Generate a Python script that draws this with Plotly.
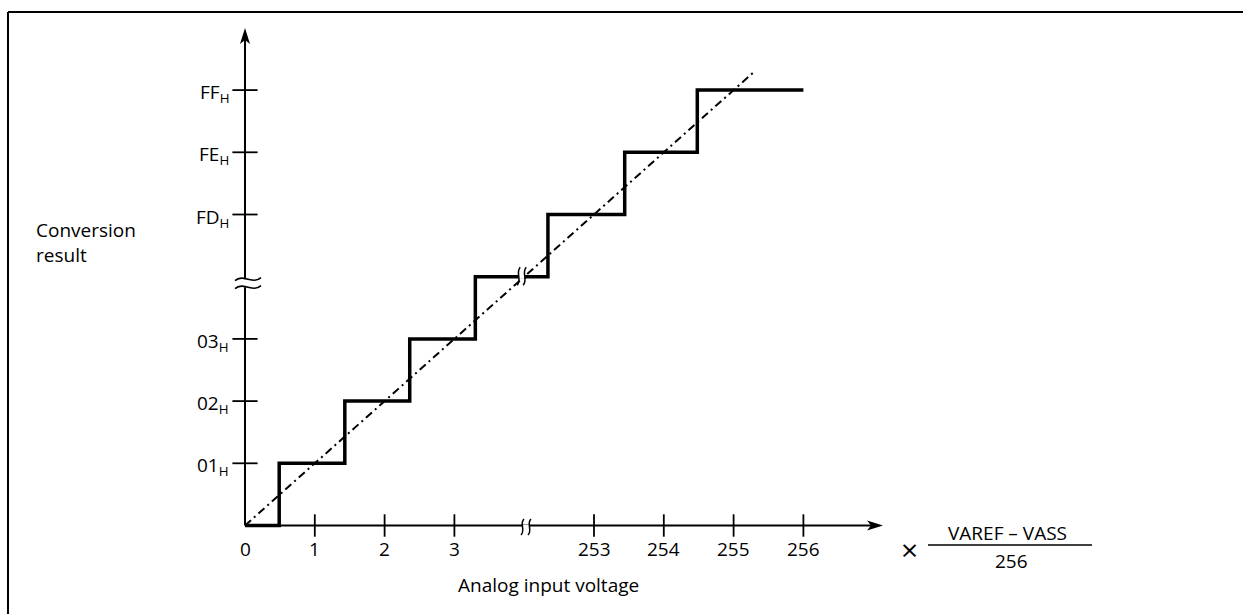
import plotly.graph_objects as go

# ---------------- data ----------------
x_tick_values = [0, 1, 2, 3, 253, 254, 255, 256]
x_tick_labels = ["0", "1", "2", "3", "253", "254", "255", "256"]
y_tick_codes = [1, 2, 3, 253, 254, 255]
y_tick_labels = ["01", "02", "03", "FD", "FE", "FF"]
step_input = [0, 0.49, 1.43, 2.36, 3.3, 252.34, 253.44, 254.48, 256]
step_code = [0, 1, 2, 3, 252, 253, 254, 255, 255]
ideal_input = [0, 255.3]
ideal_code = [0, 255.3]

BREAK_AT = 252  # values between 4 and 252 are hidden by the axis break


def pos(v):
    return v if v <= 4 else v - (BREAK_AT - 4)


# ---------------- geometry ----------------
W, H = 1243, 614
X0, SX = 245, 69.8
Y0, SY = 525.5, 62.2
x_range = [-X0 / SX, (W - X0) / SX]
y_range = [(Y0 - H) / SY, Y0 / SY]
X_TIP = (883 - X0) / SX
Y_TIP = (Y0 - 28) / SY
FONT = "Open Sans"
FS = 19


def px(x):
    return x / W


def py(y):
    return 1 - y / H


fig = go.Figure()

# axes lines
fig.add_trace(go.Scatter(x=[0, X_TIP - 0.12], y=[0, 0], mode="lines",
                         line=dict(color="black", width=2), hoverinfo="skip"))
fig.add_trace(go.Scatter(x=[0, 0], y=[0, Y_TIP - 0.15], mode="lines",
                         line=dict(color="black", width=2), hoverinfo="skip"))

# tick marks
fig.add_trace(go.Scatter(x=[pos(v) for v in x_tick_values[1:]], y=[0] * (len(x_tick_values) - 1),
                         mode="markers", hoverinfo="skip",
                         marker=dict(symbol="line-ns", size=16, line=dict(color="black", width=1.8))))
fig.add_trace(go.Scatter(x=[0] * len(y_tick_codes), y=[pos(c) for c in y_tick_codes],
                         mode="markers", hoverinfo="skip",
                         marker=dict(symbol="line-ew", size=18, line=dict(color="black", width=1.8))))

# ideal (dash-dot) line
fig.add_trace(go.Scatter(x=[pos(v) for v in ideal_input], y=[pos(v) for v in ideal_code],
                         mode="lines", hoverinfo="skip",
                         line=dict(color="black", width=2, dash="8px,4px,2px,4px")))

# conversion staircase
fig.add_trace(go.Scatter(x=[pos(v) for v in step_input], y=[pos(v) for v in step_code],
                         mode="lines", line_shape="hv", hoverinfo="skip",
                         line=dict(color="black", width=3.5)))


def pshape(xa, ya, path, fill="rgba(0,0,0,0)", width=0.0):
    return dict(type="path", xref="x", yref="y", xsizemode="pixel", ysizemode="pixel",
                xanchor=xa, yanchor=ya, path=path, fillcolor=fill,
                line=dict(color="black", width=width), layer="above")


shapes = []
# arrowheads
shapes.append(pshape(X_TIP, 0, "M0,0 L-16,5 L-12,0 L-16,-5 Z", fill="black"))
shapes.append(pshape(0, Y_TIP, "M0,0 L-5,-16 L0,-12 L5,-16 Z", fill="black"))


def vwaves(xa, ya, cx, cy, half_h, gap, mask_h):
    out = []
    a = cx - gap / 2
    b = cx + gap / 2
    out.append(pshape(xa, ya, f"M{a},{cy - mask_h} L{b},{cy - mask_h} L{b},{cy + mask_h} L{a},{cy + mask_h} Z",
                      fill="white"))
    for c in (a, b):
        out.append(pshape(xa, ya,
                          f"M{c - 1.5},{cy - half_h} C{c + 3.5},{cy - 3} {c - 3.5},{cy + 3} {c + 1.5},{cy + half_h}",
                          width=1.5))
    return out


def hwaves(xa, ya, cx, cy, x_left, x_right, gap, mask_w):
    out = []
    a = cy + gap / 2
    b = cy - gap / 2
    out.append(pshape(xa, ya, f"M{cx - mask_w},{b} L{cx + mask_w},{b} L{cx + mask_w},{a} L{cx - mask_w},{a} Z",
                      fill="white"))
    for c in (a, b):
        out.append(pshape(xa, ya,
                          f"M{x_left},{c - 1.5} C{x_left + 8},{c + 6} {x_right - 8},{c - 6} {x_right},{c + 1.5}",
                          width=1.6))
    return out


# break marks: on the x-axis, on the staircase, on the y-axis
shapes += vwaves(pos(BREAK_AT), 0, 1.8, -1.5, 8, 7, 2.2)
shapes += vwaves(pos(BREAK_AT), pos(BREAK_AT), -2.5, 0.5, 9, 6, 2.6)
shapes += hwaves(0, pos(BREAK_AT), 0, -6.5, -10, 16, 8, 2.2)

# frame
shapes.append(dict(type="line", xref="paper", yref="paper", x0=px(8), x1=px(8), y0=py(12), y1=py(700),
                   line=dict(color="black", width=2)))
shapes.append(dict(type="line", xref="paper", yref="paper", x0=px(8), x1=px(1300), y0=py(12), y1=py(12),
                   line=dict(color="black", width=2)))
# fraction bar
shapes.append(dict(type="line", xref="paper", yref="paper", x0=px(928), x1=px(1092), y0=py(545), y1=py(545),
                   line=dict(color="black", width=1.5)))

annotations = []
for v, t in zip(x_tick_values, x_tick_labels):
    annotations.append(dict(x=pos(v), y=0, xref="x", yref="y", text=t, showarrow=False,
                            xanchor="center", yanchor="middle", yshift=-23,
                            font=dict(family=FONT, size=FS, color="black")))
for c, t in zip(y_tick_codes, y_tick_labels):
    annotations.append(dict(x=0, y=pos(c), xref="x", yref="y", text=f"{t}<sub>H</sub>", showarrow=False,
                            xanchor="right", yanchor="middle", xshift=-14, yshift=-3,
                            font=dict(family=FONT, size=FS, color="black")))


def ann(text, x, y, xanchor="center", size=FS):
    return dict(x=px(x), y=py(y), xref="paper", yref="paper", text=text, showarrow=False,
                xanchor=xanchor, yanchor="middle", align="left",
                font=dict(family=FONT, size=size, color="black"))


annotations += [
    ann("Conversion<br>result", 34, 242.5, "left"),
    ann("Analog input voltage", 548, 585),
    ann("×", 909, 549, size=30),
    ann("VAREF – VASS", 1007, 533),
    ann("256", 1011, 561),
]

fig.update_layout(
    width=W, height=H, margin=dict(l=0, r=0, t=0, b=0),
    paper_bgcolor="white", plot_bgcolor="white", showlegend=False,
    xaxis=dict(range=x_range, visible=False, fixedrange=True),
    yaxis=dict(range=y_range, visible=False, fixedrange=True),
    shapes=shapes, annotations=annotations,
)

fig.write_html("out.html", config={"displayModeBar": False, "staticPlot": True},
               post_script="document.body.style.margin='0';document.body.style.overflow='hidden';")
